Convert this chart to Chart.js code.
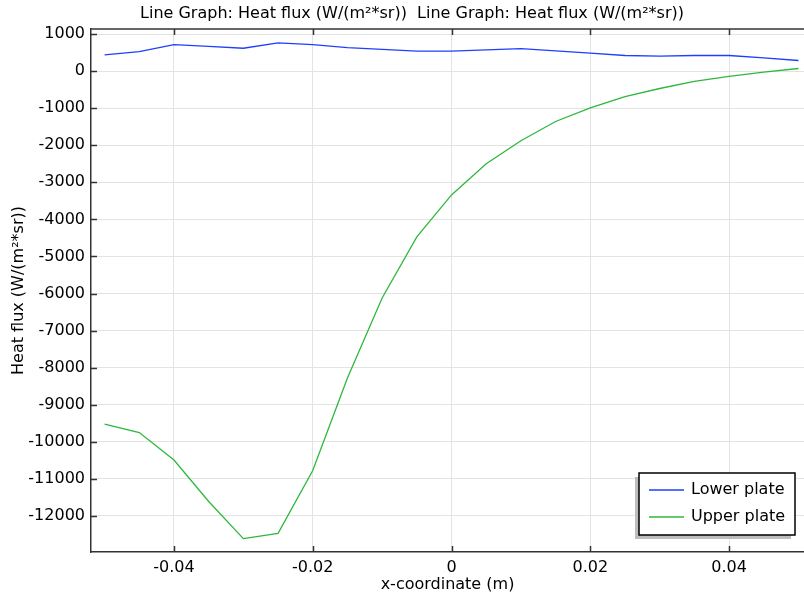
<!DOCTYPE html>
<html>
<head>
<meta charset="utf-8">
<script src="https://cdn.jsdelivr.net/npm/chart.js@4/dist/chart.umd.min.js"></script>
<style>
  html, body { margin: 0; padding: 0; background: #fff; }
  #wrap { width: 804px; height: 597px; }
</style>
</head>
<body>
<div id="wrap"><canvas id="lineChart" width="804" height="597"></canvas></div>
<script>
var xCoord = [-0.05, -0.045, -0.04, -0.035, -0.03, -0.025, -0.02, -0.015, -0.01, -0.005, 0,
              0.005, 0.01, 0.015, 0.02, 0.025, 0.03, 0.035, 0.04, 0.045, 0.05];
var lowerPlate = [437, 527, 714, 665, 616, 759, 714, 634, 585, 536, 540,
                  571, 607, 545, 482, 420, 402, 420, 420, 357, 286];
var upperPlate = [-9520, -9750, -10490, -11610, -12610, -12470, -10775, -8280, -6120, -4470, -3340,
                  -2500, -1880, -1360, -990, -690, -470, -280, -140, -30, 70];
var seriesNames = ["Lower plate", "Upper plate"];
var xTicks = [-0.04, -0.02, 0, 0.02, 0.04];
var yTicks = [1000, 0, -1000, -2000, -3000, -4000, -5000, -6000, -7000, -8000, -9000, -10000, -11000, -12000];
var titleText = "Line Graph: Heat flux (W/(m\u00b2*sr))  Line Graph: Heat flux (W/(m\u00b2*sr))";

var FONT = "'DejaVu Sans', sans-serif";
var blue = "#1f3fff";
var green = "#2db83d";

function toPoints(xs, ys) {
  return xs.map(function (x, i) { return { x: x, y: ys[i] }; });
}

// frame, inward ticks, title and boxed legend
var decorations = {
  id: "decorations",
  afterDraw: function (chart) {
    var ctx = chart.ctx;
    var area = chart.chartArea;
    var xs = chart.scales.x;
    var ys = chart.scales.y;
    ctx.save();
    ctx.strokeStyle = "#333";
    ctx.lineWidth = 1.5;
    ctx.beginPath();
    ctx.moveTo(area.left, area.top);
    ctx.lineTo(area.right, area.top);
    ctx.stroke();
    xTicks.forEach(function (t) {
      var px = Math.round(xs.getPixelForValue(t)) + 0.5;
      ctx.beginPath();
      ctx.moveTo(px, area.bottom);
      ctx.lineTo(px, area.bottom - 6);
      ctx.moveTo(px, area.top);
      ctx.lineTo(px, area.top + 6);
      ctx.stroke();
    });
    yTicks.forEach(function (t) {
      var py = Math.round(ys.getPixelForValue(t)) + 0.5;
      ctx.beginPath();
      ctx.moveTo(area.left, py);
      ctx.lineTo(area.left + 6, py);
      ctx.stroke();
    });

    ctx.fillStyle = "#000";
    ctx.font = "16px " + FONT;
    ctx.textAlign = "center";
    ctx.textBaseline = "middle";
    ctx.fillText(titleText, 412, 14);

    // legend
    var lx = 639, ly = 473, lw = 156, lh = 62;
    ctx.fillStyle = "#bdbdbd";
    ctx.fillRect(lx - 4, ly + 4, lw, lh);
    ctx.fillStyle = "#fff";
    ctx.fillRect(lx, ly, lw, lh);
    ctx.strokeStyle = "#000";
    ctx.lineWidth = 1.5;
    ctx.strokeRect(lx, ly, lw, lh);
    chart.data.datasets.forEach(function (ds, i) {
      var yy = 490 + i * 27;
      ctx.strokeStyle = ds.borderColor;
      ctx.lineWidth = 1.5;
      ctx.beginPath();
      ctx.moveTo(649, yy);
      ctx.lineTo(684, yy);
      ctx.stroke();
      ctx.fillStyle = "#000";
      ctx.textAlign = "left";
      ctx.fillText(ds.label, 691, yy);
    });
    ctx.restore();
  }
};

var ctx = document.getElementById("lineChart").getContext("2d");
var chart = new Chart(ctx, {
  type: "line",
  data: {
    datasets: [
      {
        label: seriesNames[0],
        data: toPoints(xCoord, lowerPlate),
        borderColor: blue,
        borderWidth: 1.3,
        pointRadius: 0,
        tension: 0
      },
      {
        label: seriesNames[1],
        data: toPoints(xCoord, upperPlate),
        borderColor: green,
        borderWidth: 1.3,
        pointRadius: 0,
        tension: 0
      }
    ]
  },
  options: {
    responsive: false,
    animation: false,
    layout: { padding: { top: 29, left: 0, right: 0, bottom: 0 } },
    plugins: {
      legend: { display: false },
      title: { display: false },
      tooltip: { enabled: false }
    },
    scales: {
      x: {
        type: "linear",
        min: -0.05196,
        max: 0.0508,
        afterBuildTicks: function (scale) {
          scale.ticks = xTicks.map(function (v) { return { value: v }; });
        },
        afterFit: function (scale) { scale.height = 45; },
        grid: { color: "#e3e3e3", lineWidth: 1, drawTicks: false },
        border: { display: true, color: "#333", width: 1.5 },
        ticks: {
          color: "#000",
          font: { family: FONT, size: 16 },
          padding: 6,
          maxRotation: 0,
          callback: function (v) { return String(v); }
        },
        title: {
          display: true,
          text: "x-coordinate (m)",
          color: "#000",
          font: { family: FONT, size: 16 },
          padding: { top: 0, bottom: 3 }
        }
      },
      y: {
        min: -12971,
        max: 1135,
        afterBuildTicks: function (scale) {
          scale.ticks = yTicks.map(function (v) { return { value: v }; });
        },
        afterFit: function (scale) { scale.width = 91; },
        grid: { color: "#e3e3e3", lineWidth: 1, drawTicks: false },
        border: { display: true, color: "#333", width: 1.5 },
        ticks: {
          color: "#000",
          font: { family: FONT, size: 16 },
          padding: 6,
          callback: function (v) { return String(v); }
        },
        title: {
          display: true,
          text: "Heat flux (W/(m\u00b2*sr))",
          color: "#000",
          font: { family: FONT, size: 16 },
          padding: { top: 9, bottom: 0 }
        }
      }
    }
  },
  plugins: [decorations]
});
</script>
</body>
</html>
